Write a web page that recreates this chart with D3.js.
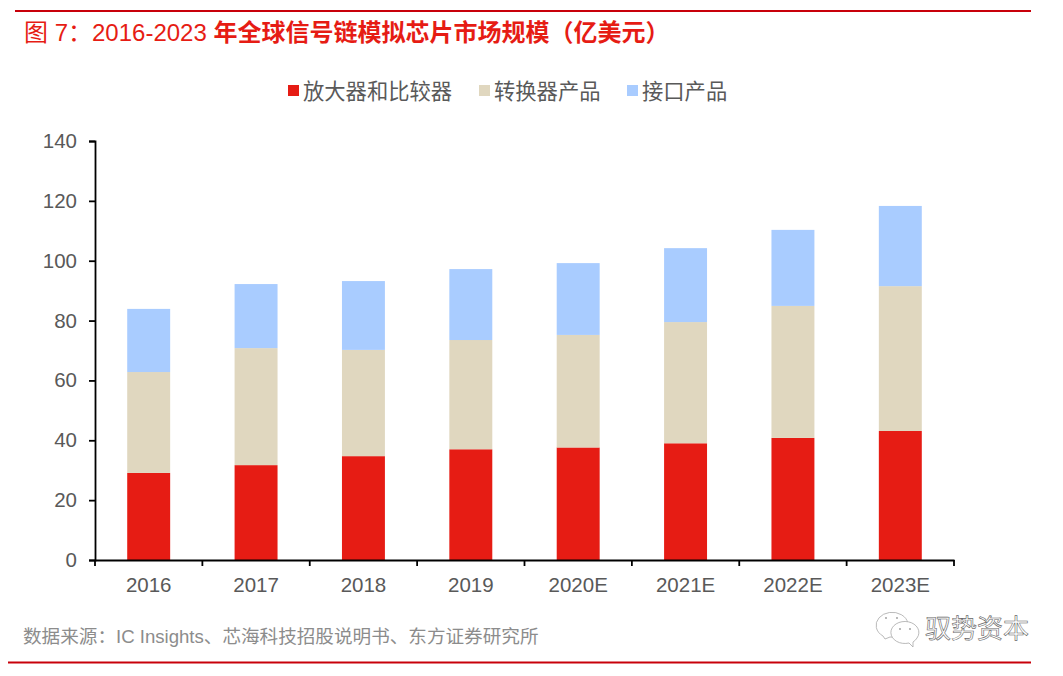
<!DOCTYPE html>
<html>
<head>
<meta charset="utf-8">
<script src="https://cdn.jsdelivr.net/npm/d3@7"></script>
<style>
  html, body { margin: 0; padding: 0; background: #fff; }
  svg { display: block; }
  text { font-family: "Liberation Sans", "Noto Sans CJK SC", sans-serif; }
</style>
</head>
<body>
<div id="chart"></div>
<script>
const years = ['2016', '2017', '2018', '2019', '2020E', '2021E', '2022E', '2023E']
const amplifiers = [29.1, 31.7, 34.7, 37, 37.6, 39, 40.8, 43.1]
const converters = [33.7, 39.1, 35.5, 36.5, 37.6, 40.5, 44.1, 48.4]
const interfaces = [21.1, 21.4, 23, 23.7, 24, 24.7, 25.4, 26.8]
const seriesNames = ['放大器和比较器', '转换器产品', '接口产品']
const seriesColors = ['#e61c14', '#e0d7bf', '#a9ccff']
const yTicks = [0, 20, 40, 60, 80, 100, 120, 140]

const width = 1063
const height = 676
const margin = { top: 141, right: 109, bottom: 116, left: 95 }

const svg = d3
  .select('#chart')
  .append('svg')
  .attr('width', width)
  .attr('height', height)

// red rules, top and bottom
const rules = [11, 662.5]
svg
  .selectAll('.rule')
  .data(rules)
  .join('line')
  .attr('class', 'rule')
  .attr('x1', (d, i) => (i === 0 ? 15 : 8))
  .attr('x2', 1031)
  .attr('y1', (d) => d)
  .attr('y2', (d) => d)
  .attr('stroke', '#c8000a')
  .attr('stroke-width', 2)

// title
const title = svg
  .append('text')
  .attr('x', 24)
  .attr('y', 41)
  .attr('fill', '#e61c14')
  .style('font-size', '24px')
title.append('tspan').text('图 7：2016-2023 ')
title.append('tspan').attr('font-weight', 'bold').text('年全球信号链模拟芯片市场规模（亿美元）')

const x = d3
  .scaleBand()
  .domain(years)
  .range([margin.left, width - margin.right])
  .paddingInner(0.6)
  .paddingOuter(0.3)

const y = d3
  .scaleLinear()
  .domain([0, 140])
  .range([height - margin.bottom, margin.top])

// stack the three series
const rows = years.map((d, i) => ({
  year: d,
  [seriesNames[0]]: amplifiers[i],
  [seriesNames[1]]: converters[i],
  [seriesNames[2]]: interfaces[i],
}))
const stacked = d3.stack().keys(seriesNames)(rows)

svg
  .append('g')
  .selectAll('g')
  .data(stacked)
  .join('g')
  .attr('fill', (d, i) => seriesColors[i])
  .selectAll('rect')
  .data((d) => d)
  .join('rect')
  .attr('x', (d) => x(d.data.year))
  .attr('y', (d) => y(d[1]))
  .attr('width', x.bandwidth())
  .attr('height', (d) => y(d[0]) - y(d[1]))

// Y axis
const yAxis = svg
  .append('g')
  .attr('transform', `translate(${margin.left},0)`)
  .call(d3.axisLeft(y).tickValues(yTicks).tickSize(6).tickPadding(12))
yAxis.selectAll('path, line').attr('stroke', '#000').attr('stroke-width', 1.8)
yAxis.selectAll('text').attr('fill', '#595959').style('font-size', '20.5px')

// X axis, ticks sit between the bars
const xAxisY = height - margin.bottom
const xAxis = svg
  .append('g')
  .attr('transform', `translate(0,${xAxisY})`)
  .call(d3.axisBottom(x).tickSize(0).tickPadding(17))
xAxis.select('.domain').attr('stroke', '#000').attr('stroke-width', 1.8)
xAxis.selectAll('text').attr('fill', '#595959').style('font-size', '20.5px')
const step = x.step()
xAxis
  .selectAll('.between')
  .data(d3.range(years.length + 1))
  .join('line')
  .attr('class', 'between')
  .attr('x1', (d) => margin.left + d * step)
  .attr('x2', (d) => margin.left + d * step)
  .attr('y1', 0)
  .attr('y2', 6)
  .attr('stroke', '#000')
  .attr('stroke-width', 1.8)

// legend
const legendX = [288, 479, 627]
const legend = svg
  .append('g')
  .selectAll('g')
  .data(seriesNames)
  .join('g')
  .attr('transform', (d, i) => `translate(${legendX[i]},91)`)
legend
  .append('rect')
  .attr('y', -6)
  .attr('width', 11)
  .attr('height', 11)
  .attr('fill', (d, i) => seriesColors[i])
legend
  .append('text')
  .attr('x', 15)
  .attr('y', 8)
  .attr('fill', '#595959')
  .style('font-size', '21.3px')
  .text((d) => d)

// source
svg
  .append('text')
  .attr('x', 23)
  .attr('y', 643)
  .attr('fill', '#8c8c8c')
  .style('font-size', '18.6px')
  .text('数据来源：IC Insights、芯海科技招股说明书、东方证券研究所')

// wechat watermark
const mark = svg
  .append('g')
  .attr('fill', '#fff')
  .attr('stroke', '#a8a8a8')
  .attr('stroke-width', 0.8)
mark.append('path').attr('d', 'M885 639 L883 636 A16 13 0 1 1 905 633 A16 13 0 0 1 890 637 Z')
mark.append('path').attr('d', 'M913 647 L909 643 A14 11 0 1 1 917 638 A14 11 0 0 1 913 642 Z')
mark
  .selectAll('.eye')
  .data([[886, 618], [897, 618], [900, 629], [910, 629]])
  .join('circle')
  .attr('class', 'eye')
  .attr('cx', (d) => d[0])
  .attr('cy', (d) => d[1])
  .attr('r', 0.9)
  .attr('fill', '#999')
  .attr('stroke', 'none')
svg
  .append('text')
  .attr('x', 925)
  .attr('y', 638)
  .attr('fill', '#fff')
  .attr('stroke', '#666')
  .attr('stroke-width', 0.6)
  .style('font-size', '26px')
  .text('驭势资本')
</script>
</body>
</html>
